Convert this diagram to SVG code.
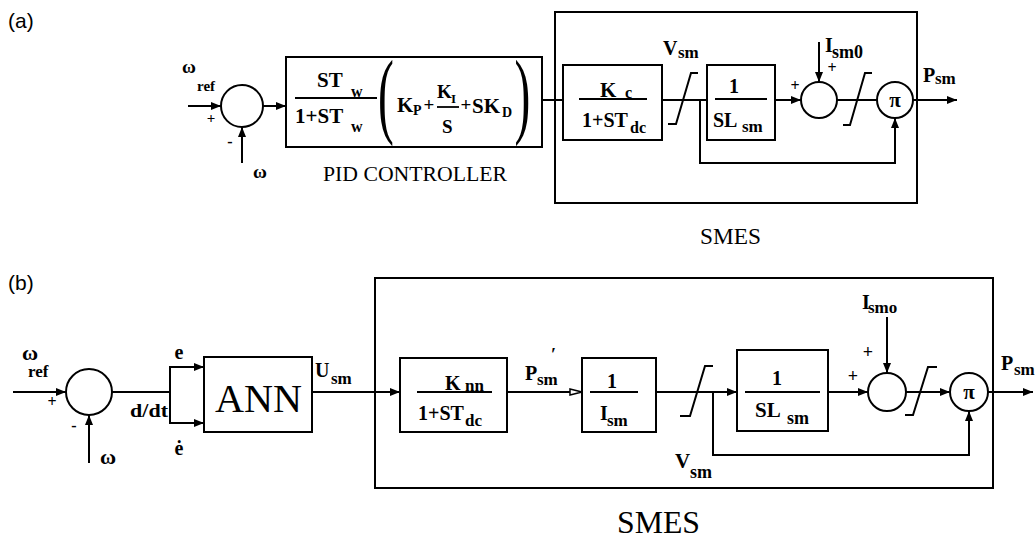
<svg xmlns="http://www.w3.org/2000/svg" width="1036" height="538" viewBox="0 0 1036 538">
<style>
.ln{fill:none;stroke:#000;stroke-width:2}
.bx{fill:none;stroke:#000;stroke-width:2}
.fr{stroke:#000;stroke-width:1.8}
.t{font-family:"Liberation Serif","Times New Roman",serif;font-weight:bold;fill:#000}
.r{font-family:"Liberation Serif","Times New Roman",serif;font-weight:normal;fill:#000}
.s{font-family:"Liberation Sans",Arial,sans-serif;fill:#000}
.m{text-anchor:middle}
</style>
<defs>
<marker id="ah" viewBox="0 0 10 8" refX="10" refY="4" markerWidth="10" markerHeight="8" markerUnits="userSpaceOnUse" orient="auto"><path d="M0,0 L10,4 L0,8 z" fill="#000"/></marker>
<marker id="ho" viewBox="0 0 14 8" refX="13" refY="4" markerWidth="14" markerHeight="8" markerUnits="userSpaceOnUse" orient="auto"><path d="M1,1 L13,4 L1,7 z" fill="#fff" stroke="#000" stroke-width="1.5"/></marker>
</defs>
<rect width="1036" height="538" fill="#fff"/>

<!-- ===== (a) ===== -->
<text class="s" x="8" y="28" font-size="21">(a)</text>

<g id="a-connectors">
<line class="ln" x1="188" y1="106" x2="221" y2="106" marker-end="url(#ah)"/>
<line class="ln" x1="242" y1="163" x2="242" y2="127" marker-end="url(#ah)"/>
<line class="ln" x1="263" y1="106" x2="286" y2="106" marker-end="url(#ah)"/>
<line class="ln" x1="542" y1="100" x2="563" y2="100"/>
<line class="ln" x1="662" y1="100" x2="707" y2="100"/>
<line class="ln" x1="775" y1="100" x2="801" y2="100" marker-end="url(#ah)"/>
<line class="ln" x1="819" y1="42" x2="819" y2="82" marker-end="url(#ah)"/>
<line class="ln" x1="837" y1="100" x2="877" y2="100"/>
<line class="ln" x1="913" y1="100" x2="957" y2="100" marker-end="url(#ah)"/>
<path class="ln" d="M700,100 V163 H895 V118" marker-end="url(#ah)"/>
<polyline class="ln" points="668,124 676,124 691,73 698,73"/>
<polyline class="ln" points="843,125 850,125 865,73 872,73"/>
</g>

<g id="a-labels">
<text class="t" x="182" y="73" font-size="19">ω</text>
<text class="t" x="197" y="91" font-size="15">ref</text>
<text class="t m" x="211" y="123" font-size="15">+</text>
<text class="t m" x="230" y="147" font-size="16">-</text>
<text class="t" x="253" y="178" font-size="19">ω</text>
<text class="t" x="663" y="55" font-size="20">V</text>
<text class="t" x="678" y="58" font-size="17">sm</text>
<text class="t" x="825" y="52" font-size="20">I</text>
<text class="t" x="832" y="58" font-size="18">sm0</text>
<text class="t m" x="832" y="73" font-size="16">+</text>
<text class="t m" x="795" y="91" font-size="16">+</text>
<text class="t" x="923" y="82" font-size="20">P</text>
<text class="t" x="935" y="84" font-size="17">sm</text>
</g>

<g id="a-sum">
<circle class="bx" cx="242" cy="106" r="21"/>
</g>

<g id="a-pid">
<rect class="bx" x="286" y="57" width="256" height="90"/>
<text class="t" x="317" y="87" font-size="21">ST</text>
<text class="t" x="351" y="97" font-size="16">w</text>
<line class="fr" x1="295" y1="98" x2="377" y2="98"/>
<text class="t" x="295" y="123" font-size="21">1+ST</text>
<text class="t" x="351" y="132" font-size="16">w</text>
<text class="r" transform="translate(380,126) scale(0.5,1)" x="-4" y="0" font-size="95">(</text>
<text class="t" x="397" y="112" font-size="21">K</text>
<text class="t" x="413" y="115" font-size="14">P</text>
<text class="t m" x="429" y="111" font-size="19">+</text>
<text class="t" x="437" y="98" font-size="19">K</text>
<text class="t" x="451" y="103" font-size="13">I</text>
<line class="fr" x1="437" y1="107" x2="459" y2="107"/>
<text class="t" x="442" y="133" font-size="19">S</text>
<text class="t m" x="466" y="111" font-size="19">+</text>
<text class="t" x="472" y="113" font-size="21">SK</text>
<text class="t" x="502" y="117" font-size="14">D</text>
<text class="r" transform="translate(516,126) scale(0.5,1)" x="-3" y="0" font-size="95">)</text>
<text class="r" x="323" y="181" font-size="20" textLength="184" lengthAdjust="spacingAndGlyphs">PID CONTROLLER</text>
</g>

<g id="a-smes">
<rect class="bx" x="555" y="12" width="362" height="191"/>
<text class="r" x="700" y="244" font-size="23" textLength="61" lengthAdjust="spacingAndGlyphs">SMES</text>
</g>

<g id="a-kc">
<rect class="bx" x="563" y="65" width="99" height="75"/>
<text class="t" x="600" y="97" font-size="21">K</text>
<text class="t" x="625" y="98" font-size="16">c</text>
<line class="fr" x1="579" y1="99" x2="647" y2="99"/>
<text class="t" x="582" y="127" font-size="20">1+ST</text>
<text class="t" x="630" y="133" font-size="16">dc</text>
</g>

<g id="a-slsm">
<rect class="bx" x="707" y="65" width="68" height="75"/>
<text class="t m" x="734" y="93" font-size="20">1</text>
<line class="fr" x1="715" y1="99" x2="767" y2="99"/>
<text class="t" x="713" y="127" font-size="20">SL</text>
<text class="t" x="742" y="132" font-size="17">sm</text>
</g>

<g id="a-sum2">
<circle class="bx" cx="819" cy="100" r="18"/>
</g>

<g id="a-pi">
<circle class="bx" cx="895" cy="100" r="18"/>
<text class="t m" x="895" y="107" font-size="21">π</text>
</g>

<!-- ===== (b) ===== -->
<text class="s" x="8" y="290" font-size="21">(b)</text>

<g id="b-connectors">
<line class="ln" x1="13" y1="392" x2="66" y2="392" marker-end="url(#ah)"/>
<line class="ln" x1="89" y1="463" x2="89" y2="415" marker-end="url(#ah)"/>
<line class="ln" x1="112" y1="392" x2="170" y2="392"/>
<line class="ln" x1="170" y1="366" x2="170" y2="424"/>
<line class="ln" x1="169" y1="367" x2="204" y2="367" marker-end="url(#ah)"/>
<line class="ln" x1="169" y1="423" x2="204" y2="423" marker-end="url(#ah)"/>
<line class="ln" x1="312" y1="392" x2="400" y2="392" marker-end="url(#ah)"/>
<line class="ln" x1="507" y1="392" x2="582" y2="392" marker-end="url(#ho)"/>
<line class="ln" x1="656" y1="392" x2="737" y2="392" marker-end="url(#ah)"/>
<line class="ln" x1="828" y1="392" x2="868" y2="392" marker-end="url(#ah)"/>
<line class="ln" x1="887" y1="317" x2="887" y2="373" marker-end="url(#ah)"/>
<line class="ln" x1="906" y1="392" x2="950" y2="392" marker-end="url(#ah)"/>
<line class="ln" x1="988" y1="392" x2="1033" y2="392" marker-end="url(#ah)"/>
<path class="ln" d="M713,392 V455 H969 V411" marker-end="url(#ah)"/>
<polyline class="ln" points="680,416 690,416 705,366 713,366"/>
<polyline class="ln" points="905,415 913,415 928,367 937,367"/>
</g>

<g id="b-labels">
<text class="t" x="22" y="360" font-size="22">ω</text>
<text class="t" x="28" y="377" font-size="17">ref</text>
<text class="t m" x="52" y="407" font-size="16">+</text>
<text class="t m" x="74" y="431" font-size="16">-</text>
<text class="t" x="100" y="464" font-size="22">ω</text>
<text class="t m" x="179" y="359" font-size="20">e</text>
<text class="t m" x="179" y="455" font-size="20">ė</text>
<text class="t" x="130" y="417" font-size="19" textLength="38" lengthAdjust="spacingAndGlyphs">d/dt</text>
<text class="t" x="315" y="377" font-size="20">U</text>
<text class="t" x="331" y="384" font-size="17">sm</text>
<text class="t" x="525" y="380" font-size="20">P</text>
<text class="t" x="537" y="385" font-size="17">sm</text>
<text class="t" x="551" y="361" font-size="18">′</text>
<text class="t" x="862" y="309" font-size="20">I</text>
<text class="t" x="868" y="313" font-size="17">smo</text>
<text class="t m" x="868" y="358" font-size="18">+</text>
<text class="t m" x="853" y="382" font-size="18">+</text>
<text class="t" x="1001" y="370" font-size="20">P</text>
<text class="t" x="1014" y="375" font-size="17">sm</text>
<text class="t" x="675" y="468" font-size="21">V</text>
<text class="t" x="690" y="478" font-size="18">sm</text>
</g>

<g id="b-sum">
<circle class="bx" cx="89" cy="392" r="23"/>
</g>

<g id="b-ann">
<rect class="bx" x="204" y="357" width="108" height="75"/>
<text class="r" x="215" y="412" font-size="40" textLength="87" lengthAdjust="spacingAndGlyphs">ANN</text>
</g>

<g id="b-smes">
<rect class="bx" x="375" y="278" width="618" height="210"/>
<text class="r" x="617" y="533" font-size="32" textLength="83" lengthAdjust="spacingAndGlyphs">SMES</text>
</g>

<g id="b-knn">
<rect class="bx" x="400" y="358" width="107" height="74"/>
<text class="t" x="445" y="390" font-size="20">K</text>
<text class="t" x="465" y="391" font-size="17">nn</text>
<line class="fr" x1="417" y1="392" x2="492" y2="392"/>
<text class="t" x="418" y="420" font-size="20">1+ST</text>
<text class="t" x="465" y="426" font-size="17">dc</text>
</g>

<g id="b-ism">
<rect class="bx" x="582" y="358" width="74" height="74"/>
<text class="t m" x="612" y="388" font-size="20">1</text>
<line class="fr" x1="590" y1="392" x2="638" y2="392"/>
<text class="t" x="600" y="420" font-size="20">I</text>
<text class="t" x="607" y="426" font-size="17">sm</text>
</g>

<g id="b-slsm">
<rect class="bx" x="737" y="350" width="91" height="81"/>
<text class="t m" x="777" y="385" font-size="20">1</text>
<line class="fr" x1="745" y1="392" x2="820" y2="392"/>
<text class="t" x="755" y="417" font-size="21">SL</text>
<text class="t" x="787" y="424" font-size="18">sm</text>
</g>

<g id="b-sum2">
<circle class="bx" cx="887" cy="392" r="19"/>
</g>

<g id="b-pi">
<circle class="bx" cx="969" cy="392" r="19"/>
<text class="t m" x="969" y="399" font-size="21">π</text>
</g>
</svg>
